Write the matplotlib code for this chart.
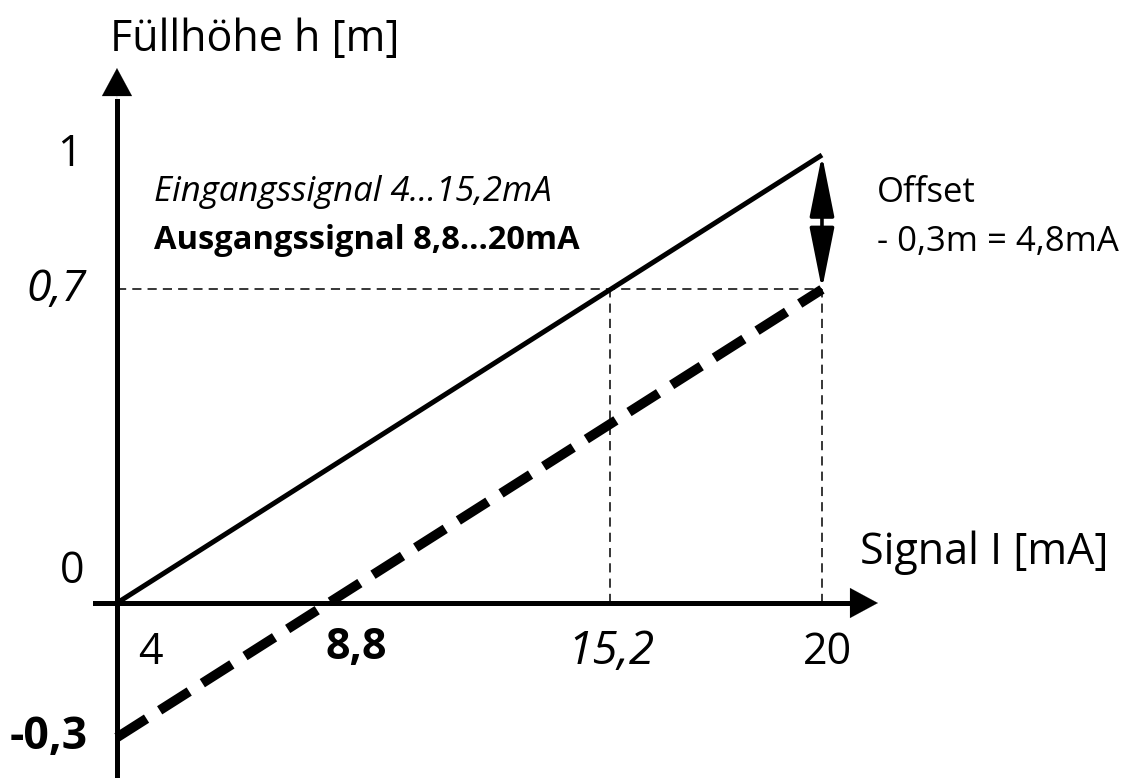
import matplotlib
matplotlib.use("Agg")
import matplotlib.pyplot as plt

plt.rcParams['font.family'] = ['Open Sans', 'DejaVu Sans']

# Kennlinien
signal_ma = [4, 20]
h_ausgang = [0.0, 1.0]      # 4..20 mA -> 0..1 m
h_eingang = [-0.3, 0.7]     # mit Offset -0,3 m
i_mitte = 15.2
i_null = 8.8
h_max = 0.7

fig = plt.figure(figsize=(11.26, 7.78), dpi=100)
ax = fig.add_axes([0, 0, 1, 1])
ax.set_xlim(1.345, 26.9)
ax.set_ylim(-0.3906, 1.346)
ax.axis('off')

# Hilfslinien
thin = dict(color='black', lw=1.1, ls=(0, (6, 4)))
ax.plot([signal_ma[0], signal_ma[1]], [h_max, h_max], **thin)
ax.plot([i_mitte, i_mitte], [0, h_max], **thin)
ax.plot([signal_ma[1], signal_ma[1]], [0, h_max], **thin)

# Kennlinien
ax.plot(signal_ma, h_ausgang, color='black', lw=3.6, solid_capstyle='butt')
ax.plot(signal_ma, h_eingang, color='black', lw=7, ls=(0, (3.6, 1.6)),
        dash_capstyle='butt')

# Achsen mit Pfeilen
ax.plot([4, 4], [-0.40, 1.12], color='black', lw=3.6)
ax.annotate('', xy=(4, 1.194), xytext=(4, 1.10),
            arrowprops=dict(arrowstyle='-|>,head_length=1.0,head_width=0.54',
                            mutation_scale=20, color='black', lw=0.1,
                            shrinkA=0, shrinkB=0))
ax.plot([3.5, 20.7], [0, 0], color='black', lw=3.6)
ax.annotate('', xy=(21.27, 0), xytext=(20.5, 0),
            arrowprops=dict(arrowstyle='-|>,head_length=1.0,head_width=0.54',
                            mutation_scale=20, color='black', lw=0.1,
                            shrinkA=0, shrinkB=0))

# Offset-Doppelpfeil
ax.annotate('', xy=(20, h_ausgang[1]), xytext=(20, h_max),
            arrowprops=dict(arrowstyle='<|-|>,head_length=1.9,head_width=0.38',
                            mutation_scale=20, color='black', lw=2.6,
                            shrinkA=0, shrinkB=0))

# Beschriftungen
fs = 31
ax.text(3.84, 1.257, 'Füllhöhe h [m]', fontsize=fs, ha='left', va='center')
ax.text(20.86, 0.112, 'Signal I [mA]', fontsize=fs, ha='left', va='center')
ax.text(2.93, 1.0, '1', fontsize=fs, ha='center', va='center')
ax.text(2.62, h_max, '0,7', fontsize=32, ha='center', va='center', style='italic')
ax.text(2.98, 0.069, '0', fontsize=fs, ha='center', va='center')
ax.text(2.46, -0.3, '-0,3', fontsize=32, ha='center', va='center', weight='bold')
ax.text(4.75, -0.11, '4', fontsize=fs, ha='center', va='center')
ax.text(9.42, -0.10, '8,8', fontsize=31, ha='center', va='center', weight='bold')
ax.text(15.2, -0.11, '15,2', fontsize=33, ha='center', va='center', style='italic')
ax.text(20.13, -0.11, '20', fontsize=fs, ha='center', va='center')

ax.text(4.85, 0.918, 'Eingangssignal 4…15,2mA', fontsize=25, ha='left',
        va='center', style='italic')
ax.text(4.85, 0.81, 'Ausgangssignal 8,8…20mA', fontsize=23.5, ha='left',
        va='center', weight='bold')
ax.text(21.25, 0.915, 'Offset', fontsize=25, ha='left', va='center')
ax.text(21.25, 0.806, '- 0,3m = 4,8mA', fontsize=25, ha='left', va='center')

fig.savefig('out.png', dpi=100)
